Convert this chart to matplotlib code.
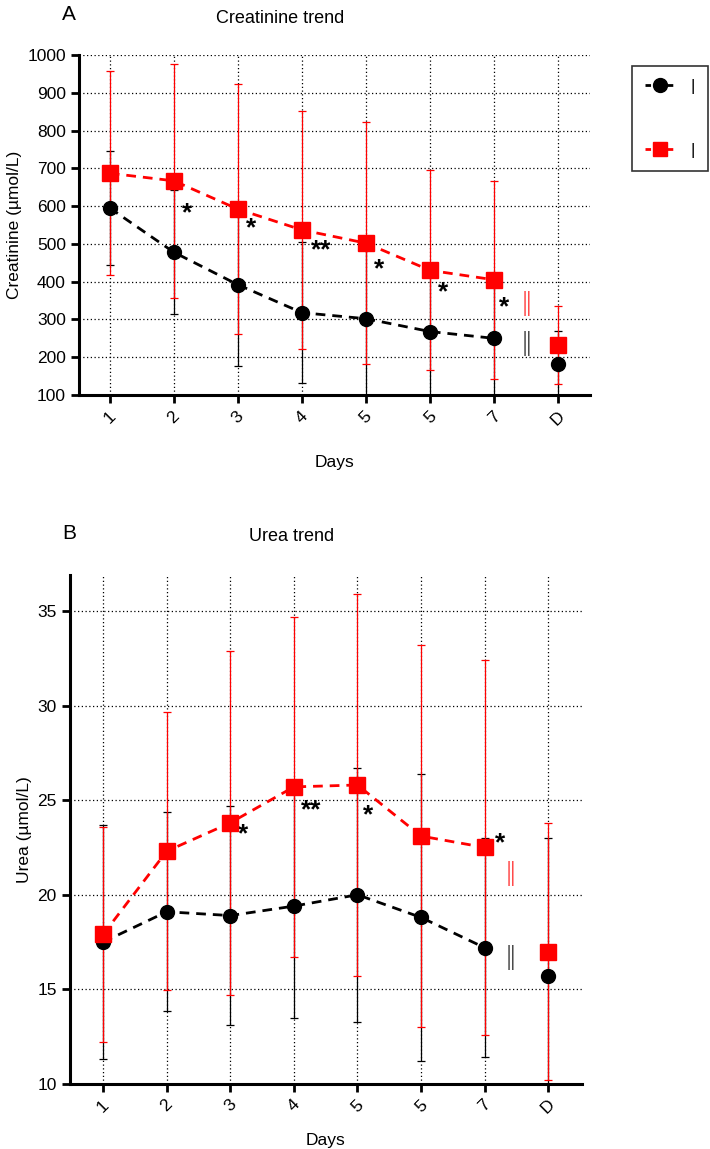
import numpy as np
import matplotlib.pyplot as plt

plt.rcParams['font.family'] = ['Liberation Sans', 'DejaVu Sans']

days = ['1', '2', '3', '4', '5', '5', '7', 'D']

# creatinine, umol/L (mean and SD)
creat_black = [595, 478, 392, 318, 302, 268, 250, 183]
creat_black_sd = [152, 164, 215, 186, 212, 175, 165, 87]
creat_red = [687, 667, 592, 537, 502, 430, 405, 232]
creat_red_sd = [270, 309, 331, 314, 320, 265, 262, 103]

# urea, umol/L
urea_black = [17.5, 19.1, 18.9, 19.4, 20.0, 18.8, 17.2, 15.7]
urea_black_sd = [6.2, 5.25, 5.8, 5.9, 6.7, 7.6, 5.8, 7.3]
urea_red = [17.9, 22.3, 23.8, 25.7, 25.8, 23.1, 22.5, 17.0]
urea_red_sd = [5.7, 7.35, 9.1, 9.0, 10.1, 10.1, 9.9, 6.8]

# significance marks (x in category units, y, text, colour)
creat_marks = [(1.2, 580, '*', 'k'), (2.2, 540, '*', 'k'), (3.3, 482, '**', 'k'),
               (4.2, 432, '*', 'k'), (5.2, 373, '*', 'k'), (6.15, 333, '*', 'k'),
               (6.5, 343, '\u2016', 'red'), (6.5, 237, '\u2016', 'k')]
urea_marks = [(2.2, 23.2, '*', 'k'), (3.27, 24.45, '**', 'k'), (4.17, 24.2, '*', 'k'),
              (6.25, 22.7, '*', 'k'), (6.4, 21.1, '\u2016', 'red'), (6.4, 16.7, '\u2016', 'k')]

fig = plt.figure(figsize=(7.1, 11.49), dpi=100)


def panel(ax, black, bsd, red, rsd, marks, pad):
    x = np.arange(len(days))
    ax.grid(True, linestyle=(0, (1, 2)), color='k', linewidth=0.9, zorder=0)
    ax.errorbar(x, black, yerr=bsd, fmt='none', ecolor='k', elinewidth=0.9,
                capsize=3, capthick=0.9, zorder=2)
    ax.errorbar(x, red, yerr=rsd, fmt='none', ecolor='red', elinewidth=0.9,
                capsize=3, capthick=0.9, zorder=3)
    ax.plot(x[:-1], black[:-1], '--', color='k', lw=2, dashes=(3.5, 2.5), zorder=4)
    ax.plot(x, black, 'o', color='k', ms=10, zorder=4, clip_on=False)
    ax.plot(x[:-1], red[:-1], '--', color='red', lw=2, dashes=(3.5, 2.5), zorder=5)
    ax.plot(x, red, 's', color='red', ms=11, zorder=5, clip_on=False)
    for mx, my, t, c in marks:
        if t == '\u2016':
            ax.text(mx, my, t, color=c, fontsize=17, ha='center', va='center',
                    family='DejaVu Sans', fontweight='light')
        else:
            ax.text(mx, my, t, color=c, fontsize=19, ha='center', va='center',
                    fontweight='bold')
    ax.set_xticks(x)
    ax.set_xticklabels(days, rotation=45, fontsize=12.5)
    ax.set_xlabel('Days', fontsize=12.5, labelpad=pad)
    for s in ['top', 'right']:
        ax.spines[s].set_visible(False)
    for s in ['left', 'bottom']:
        ax.spines[s].set_linewidth(2.2)
    ax.tick_params(width=2, length=6, labelsize=12.5)


# panel A
ax1 = fig.add_axes([0.1113, 0.6562, 0.72, 0.2959])
panel(ax1, creat_black, creat_black_sd, creat_red, creat_red_sd, creat_marks, 20)
ax1.set_xlim(-0.48, 7.5)
ax1.set_ylim(100, 1000)
ax1.set_yticks(np.arange(100, 1001, 100))
ax1.set_ylabel('Creatinine (\u00b5mol/L)', fontsize=12.5)
fig.text(0.097, 0.987, 'A', fontsize=15, va='center', ha='center')
fig.text(0.394, 0.984, 'Creatinine trend', fontsize=13, va='center', ha='center')

# panel B
ax2 = fig.add_axes([0.0986, 0.0566, 0.7211, 0.443])
panel(ax2, urea_black, urea_black_sd, urea_red, urea_red_sd, urea_marks, 12)
ax2.set_xlim(-0.52, 7.53)
ax2.set_ylim(10, 36.9)
ax2.set_yticks([10, 15, 20, 25, 30, 35])
ax2.set_ylabel('Urea (\u00b5mol/L)', fontsize=12.5)
fig.text(0.098, 0.536, 'B', fontsize=15, va='center', ha='center')
fig.text(0.41, 0.533, 'Urea trend', fontsize=13, va='center', ha='center')

# legend (labels are cut to a bar in the original)
h1, = ax1.plot([], [], linestyle=(0, (2, 2)), color='k', lw=2, marker='o', ms=10)
h2, = ax1.plot([], [], linestyle=(0, (2, 2)), color='red', lw=2, marker='s', ms=10)
leg = fig.legend([h1, h2], ['|', '|'], loc='upper left', bbox_to_anchor=(0.89, 0.9426),
                 frameon=True, fancybox=False, edgecolor='k', fontsize=12,
                 handlelength=1.8, labelspacing=2.9, borderpad=0.8,
                 handletextpad=0.9, borderaxespad=0)
leg.get_frame().set_linewidth(1.2)

fig.savefig('out.png', dpi=100)
